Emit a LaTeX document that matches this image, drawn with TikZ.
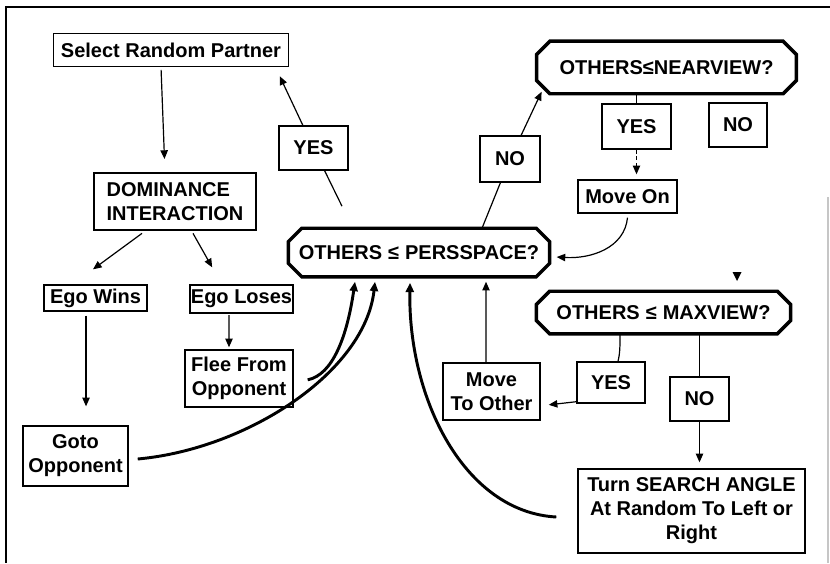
\documentclass[tikz,border=0pt]{standalone}
\usepackage{fontspec}
\setmainfont{Liberation Sans}
\usetikzlibrary{arrows.meta}
\newcommand\lbl{\fontsize{15pt}{18pt}\selectfont\bfseries}
\newcommand\octdraw[1]{%
  \draw[octline] ([xshift=10pt]#1.north west) -- ([xshift=-10pt]#1.north east)
    -- ([yshift=-10pt]#1.north east) -- ([yshift=10pt]#1.south east)
    -- ([xshift=-10pt]#1.south east) -- ([xshift=10pt]#1.south west)
    -- ([yshift=10pt]#1.south west) -- ([yshift=-10pt]#1.north west) -- cycle;}
\tikzset{
  box/.style={draw, line width=1pt, fill=white, inner sep=0pt, align=center, font=\lbl},
  octo/.style={inner sep=0pt, align=center, font=\lbl},
  octline/.style={line width=2.6pt, line join=miter},
  conn/.style={line width=0.9pt},
  arr/.style={line width=0.9pt, -{Triangle[length=6.5pt,width=5.5pt]}},
  thickarr/.style={line width=2.2pt, -{Triangle[length=7pt,width=6pt]}},
}
\begin{document}
\begin{tikzpicture}[x=0.75pt,y=-0.75pt]
\useasboundingbox (0,0) rectangle (830,563);
% frame
\draw[line width=1pt] (830,7) -- (6,7) -- (6,563);
\draw[gray!45, line width=0.8pt] (828,197) -- (828,563);

% nodes
\node[box, minimum width=176.3pt, minimum height=24.8pt] (sel) at (171,50) {Select Random Partner};
\node[box, minimum width=121.5pt, minimum height=42.8pt, align=left] (dom) at (175,201.5) {DOMINANCE\\INTERACTION};
\node[box, minimum width=51.8pt, minimum height=33pt] (yes1) at (313.5,148) {YES};
\node[box, minimum width=77.3pt, minimum height=19.5pt] (egow) at (95.5,298) {Ego Wins};
\node[box, minimum width=77.3pt, minimum height=21pt] (egol) at (241.5,299) {Ego Loses};
\node[box, minimum width=81pt, minimum height=42.8pt] (flee) at (239,378.5) {Flee From\\Opponent};
\node[box, minimum width=78.8pt, minimum height=45pt] (goto) at (75.5,456) {Goto\\Opponent};
\node[octo, minimum width=195.5pt, minimum height=36pt] (pers) at (419,252.5) {OTHERS\hspace{0.3em}≤\hspace{0.3em}PERSSPACE?};
\node[box, minimum width=45pt, minimum height=34.5pt] (nomid) at (510,159) {NO};
\node[octo, minimum width=194.5pt, minimum height=39pt] (near) at (666.5,67.5) {OTHERS≤NEARVIEW?};
\node[box, minimum width=51.8pt, minimum height=33.8pt] (yesup) at (636.5,126.5) {YES};
\node[box, minimum width=43.5pt, minimum height=33pt] (noup) at (738,125) {NO};
\node[box, minimum width=74.3pt, minimum height=24.8pt] (moveon) at (627.5,196.5) {Move On};
\node[octo, minimum width=190.3pt, minimum height=31.5pt] (max) at (663.5,312.5) {OTHERS\hspace{0.3em}≤\hspace{0.3em}MAXVIEW?};
\node[box, minimum width=72.8pt, minimum height=42.8pt] (mto) at (491.5,391.5) {Move\\To Other};
\node[box, minimum width=51pt, minimum height=30.8pt] (yeslow) at (611,382.5) {YES};
\node[box, minimum width=44.3pt, minimum height=33pt] (nolow) at (699.5,399) {NO};
\node[box, minimum width=170.3pt, minimum height=63pt] (turn) at (691.5,511) {Turn SEARCH ANGLE\\At Random To Left or\\Right};

\octdraw{pers}
\octdraw{near}
\octdraw{max}

% connectors left side
\draw[arr, shorten <=2pt, shorten >=10pt] ([xshift=-7.5pt]sel.south) -- ([xshift=-7.5pt]dom.north);
\draw[arr] ([xshift=-24.75pt,yshift=-2pt]dom.south) -- ([xshift=-1.9pt,yshift=11.25pt]egow.north);
\draw[arr] ([xshift=13.5pt,yshift=-2pt]dom.south) -- ([xshift=-22pt,yshift=12.75pt]egol.north);
\draw[arr] ([xshift=-7.1pt,yshift=-3pt]egow.south) -- ([xshift=7.9pt,yshift=14.25pt]goto.north);
\draw[arr] ([xshift=-9.4pt,yshift=-1pt]egol.south) -- ([xshift=-7.5pt,yshift=1.5pt]flee.north);

% pers -> YES -> select
\draw[conn] ([xshift=-57.75pt,yshift=16.5pt]pers.north) -- (yes1);
\draw[arr] (yes1) -- ([xshift=-7.1pt,yshift=-6.75pt]sel.south east);

% pers -> NO -> nearview
\draw[conn] ([xshift=47.25pt]pers.north) -- (nomid);
\draw[arr] (nomid) -- ([xshift=3.75pt,yshift=1.5pt]near.south west);

% nearview -> yes -> move on
\draw[conn] (yesup.north) -- (yesup.north |- near.south);
\draw[arr, densely dashed, line width=0.7pt] (yesup.south) -- ([yshift=3.75pt]yesup.south |- moveon.north);
\draw[arr] ([yshift=-3pt]moveon.south) .. controls +(-3,30) and +(35,2) .. ([xshift=5.25pt,yshift=-3.4pt]pers.east);

% thick curves into pers
\draw[thickarr] ([xshift=10.5pt,yshift=-1pt]flee.east) .. controls +(25,-5) and +(-8,55) .. ([xshift=-48pt,yshift=-3.75pt]pers.south);
\draw[thickarr] ([xshift=6.75pt,yshift=-2.25pt]goto.east) .. controls +(110,-10) and +(-10,90) .. ([xshift=-33pt,yshift=-3.75pt]pers.south);
\draw[thickarr] ([xshift=-15.75pt,yshift=-4.5pt]turn.west) .. controls +(-92,-5) and +(-2,116) .. ([xshift=-6.75pt,yshift=-4.5pt]pers.south);

% move to other -> pers
\draw[arr] ([xshift=-4.1pt]mto.north) -- ([xshift=50.25pt,yshift=-3.75pt]pers.south);

% maxview branches
\draw[conn] ([xshift=-32.6pt]max.south) .. controls +(0,12) and +(2,-8) .. ([xshift=5.25pt]yeslow.north);
\draw[arr] ([yshift=1.5pt]yeslow.south west) -- ([xshift=6pt,yshift=-10pt]mto.east);
\draw[conn] (nolow.north) -- (nolow.north |- max.south);
\draw[arr, shorten >=4.5pt] (nolow.south) -- (nolow.south |- turn.north);

% lone arrowhead above maxview
\coordinate (lone) at (737,281);
\fill (lone) -- ++(-4.5,-9) -- ++(9,0) -- cycle;
\end{tikzpicture}
\end{document}
